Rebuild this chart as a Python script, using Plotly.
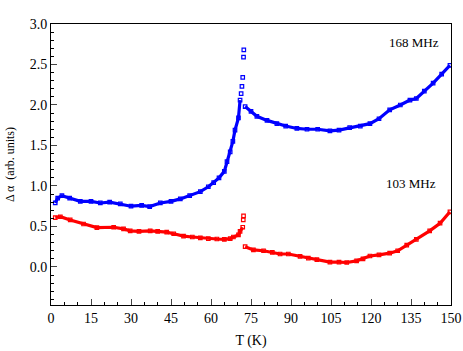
import plotly.graph_objects as go

# 168 MHz (blue) - temperature in K, delta alpha in arb. units
t_168 = [1.6, 2.5, 4.1, 7, 11, 15, 18.5, 22, 26, 30, 34, 37, 41, 45, 48.5, 52, 56,
         59, 61, 63, 65, 66, 67.2, 68.2, 69, 70.3, 70.9, 71.3, 71.6, 71.9, 72.2, 72.3,
         72.8, 75, 77.2, 81, 84.7, 88, 92.2, 96, 100, 104.6, 108, 112, 116, 119.6,
         123, 127, 131, 134.6, 137, 140, 143.3, 146.5, 149.6]
v_168 = [0.79, 0.85, 0.88, 0.85, 0.81, 0.81, 0.79, 0.80, 0.78, 0.75, 0.76, 0.745, 0.79, 0.81, 0.84, 0.88, 0.93,
         0.99, 1.04, 1.10, 1.18, 1.30, 1.42, 1.55, 1.69, 1.84, 2.06, 2.14, 2.23, 2.34, 2.59, 2.68,
         1.98, 1.92, 1.86, 1.81, 1.77, 1.74, 1.71, 1.70, 1.70, 1.68, 1.69, 1.72, 1.74, 1.77,
         1.83, 1.94, 2.00, 2.06, 2.08, 2.17, 2.27, 2.38, 2.49]

# 103 MHz (red)
t_103 = [1.6, 3.5, 7.2, 12.2, 17.2, 23.5, 27.2, 29.7, 33, 37.2, 40, 43.4, 46, 49.7, 53, 56,
         59, 62.2, 65, 67.2, 68.4, 70.3, 70.9, 71.9, 72.1, 72.2,
         72.8, 75.9, 79.7, 83, 85.9, 89, 93.4, 96.5, 99.7, 104.6, 108, 110.9, 114.6,
         117, 119.6, 123, 127, 130, 133.4, 137, 142, 145.9, 149.6]
v_103 = [0.61, 0.62, 0.58, 0.53, 0.485, 0.49, 0.47, 0.445, 0.44, 0.445, 0.44, 0.43, 0.41, 0.38, 0.37, 0.36,
         0.35, 0.345, 0.34, 0.35, 0.37, 0.395, 0.44, 0.49, 0.58, 0.63,
         0.25, 0.21, 0.20, 0.18, 0.16, 0.16, 0.13, 0.11, 0.09, 0.06, 0.06, 0.055, 0.075,
         0.10, 0.135, 0.15, 0.17, 0.20, 0.27, 0.34, 0.445, 0.54, 0.68]

x_ticks = [0, 15, 30, 45, 60, 75, 90, 105, 120, 135, 150]
y_ticks = [0.0, 0.5, 1.0, 1.5, 2.0, 2.5, 3.0]

font_family = "Liberation Serif, Times New Roman, serif"


def add_series(fig, t, v, color, rise_end, peak_end):
    # dense part before the peak, sparse points up to the peak, dense part after
    parts = [(0, rise_end, "lines+markers"), (rise_end, peak_end, "markers"),
             (peak_end, len(t), "lines+markers")]
    for a, b, mode in parts:
        fig.add_trace(go.Scatter(x=t[a:b], y=v[a:b], mode=mode,
                                 line=dict(color=color, width=3.2),
                                 marker=dict(color=color, size=3.5, symbol="square-open",
                                             line=dict(width=1.2)),
                                 showlegend=False))


fig = go.Figure()
add_series(fig, t_168, v_168, "#0000ff", 27, 32)
add_series(fig, t_103, v_103, "#ff0000", 24, 26)

fig.add_annotation(x=136, y=2.77, text="168 MHz", showarrow=False,
                   font=dict(family=font_family, size=13, color="black"))
fig.add_annotation(x=135, y=1.03, text="103 MHz", showarrow=False,
                   font=dict(family=font_family, size=13, color="black"))

fig.update_xaxes(range=[0, 150], tickvals=x_ticks, ticks="inside", ticklen=6,
                 minor=dict(ticks="inside", dtick=5, ticklen=3, tickcolor="black"),
                 showline=True, linecolor="black", linewidth=1, mirror=True,
                 showgrid=False, zeroline=False, automargin=False,
                 title=dict(text="T (K)", font=dict(family=font_family, size=14), standoff=10))
fig.update_yaxes(range=[-0.47, 3.0], tickvals=y_ticks, tickformat=".1f",
                 ticks="inside", ticklen=6,
                 minor=dict(ticks="inside", dtick=0.1, ticklen=3, tickcolor="black"),
                 showline=True, linecolor="black", linewidth=1, mirror=True,
                 showgrid=False, zeroline=False, automargin=False,
                 title=dict(text="Δ α  (arb. units)", font=dict(family=font_family, size=12),
                            standoff=12))

fig.update_layout(width=463, height=351, plot_bgcolor="white", paper_bgcolor="white",
                  margin=dict(l=51, r=12, t=24, b=46),
                  font=dict(family=font_family, size=14, color="black"))

# drop the browser's default body margin so the figure sits at the page corner
fig.write_html("out.html", config={"displayModeBar": False},
               post_script="document.body.style.margin='0';document.body.style.overflow='hidden';")
